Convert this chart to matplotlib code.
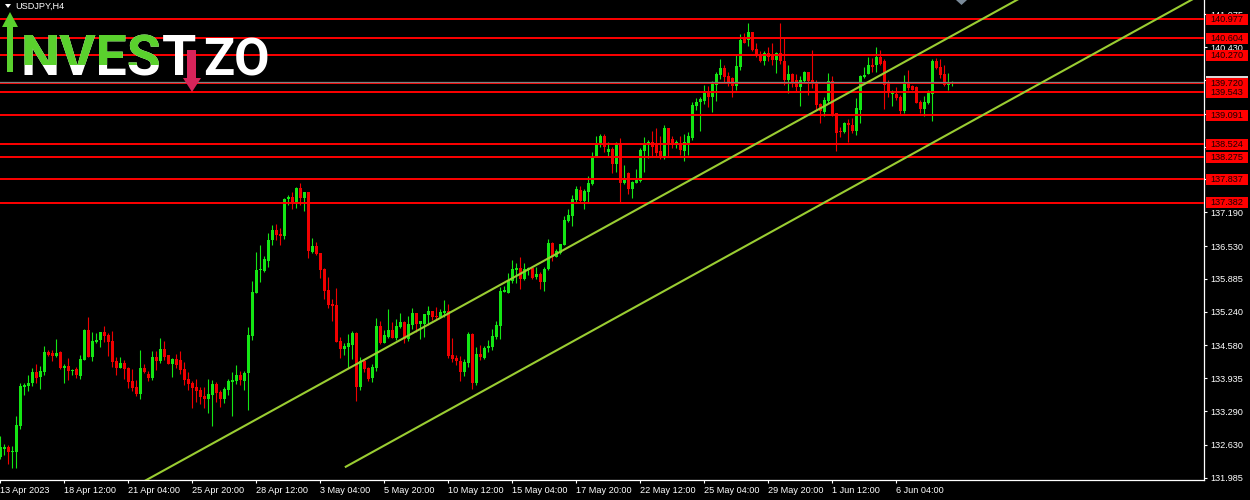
import numpy as np
import matplotlib
matplotlib.use("Agg")
import matplotlib.pyplot as plt
from matplotlib.patches import Rectangle, Polygon
from matplotlib.transforms import blended_transform_factory, Bbox

plt.rcParams['font.family'] = ['Liberation Sans', 'DejaVu Sans']

symbol = "USDJPY,H4"

# H4 candles, oldest first
opens = [
    132.40, 132.55, 132.59, 132.48, 132.49, 133.00, 133.77, 133.78, 133.84, 134.06,
    133.97, 134.06, 134.46, 134.44, 134.37, 134.46, 134.14, 134.18, 134.08, 134.11,
    133.98, 134.29, 134.88, 134.36, 134.64, 134.69, 134.84, 134.78, 134.67, 134.27,
    134.14, 134.24, 134.14, 133.89, 133.77, 133.63, 134.14, 134.01, 133.95, 134.36,
    134.27, 134.51, 134.39, 134.21, 134.31, 134.29, 134.12, 133.92, 133.85, 133.76,
    133.71, 133.59, 133.53, 133.61, 133.82, 133.67, 133.53, 133.71, 133.87, 133.88,
    134.00, 133.88, 134.03, 134.77, 135.61, 136.05, 136.04, 136.24, 136.65, 136.84,
    136.76, 136.73, 137.45, 137.50, 137.40, 137.67, 137.47, 137.58, 136.42, 136.53,
    136.40, 136.07, 135.67, 135.39, 135.37, 134.67, 134.51, 134.55, 134.59, 134.83,
    133.76, 134.27, 134.14, 133.95, 134.14, 134.96, 134.63, 134.75, 134.89, 134.73,
    134.95, 135.03, 134.70, 134.99, 135.21, 135.00, 135.01, 135.18, 135.25, 135.16,
    135.14, 135.22, 135.25, 134.39, 134.34, 134.27, 134.06, 134.24, 134.80, 133.84,
    134.41, 134.33, 134.52, 134.55, 134.75, 134.97, 135.63, 135.61, 135.85, 136.06,
    136.10, 135.88, 136.06, 136.10, 135.92, 135.98, 135.83, 136.08, 136.58, 136.32,
    136.40, 136.55, 137.02, 137.12, 137.43, 137.62, 137.41, 137.58, 137.75, 138.27,
    138.54, 138.69, 138.38, 138.43, 138.14, 138.56, 137.77, 137.97, 137.65, 137.77,
    137.81, 138.40, 138.51, 138.58, 138.51, 138.39, 138.30, 138.85, 138.63, 138.51,
    138.53, 138.40, 138.56, 138.64, 139.28, 139.36, 139.38, 139.56, 139.46, 139.69,
    139.88, 140.03, 139.86, 139.82, 139.67, 140.05, 140.62, 140.57, 140.73, 140.39,
    140.30, 140.16, 140.32, 140.30, 140.18, 140.31, 140.15, 139.79, 139.90, 139.79,
    139.64, 139.77, 139.95, 139.79, 139.75, 139.32, 139.16, 139.37, 139.77, 139.13,
    138.79, 138.76, 138.94, 138.90, 138.79, 139.20, 139.85, 139.90, 140.08, 140.08,
    140.24, 140.15, 139.71, 139.51, 139.51, 139.45, 139.18, 139.75, 139.66, 139.64,
    139.36, 139.22, 139.34, 139.51, 140.16, 140.05, 139.90, 139.69, 139.72,
]
highs = [
    132.80, 132.65, 132.63, 132.61, 133.19, 133.84, 133.84, 134.00, 134.13, 134.21,
    134.18, 134.57, 134.49, 134.49, 134.71, 134.47, 134.21, 134.33, 134.12, 134.16,
    134.39, 134.91, 135.14, 134.85, 134.82, 134.84, 134.96, 134.83, 134.86, 134.35,
    134.35, 134.29, 134.16, 134.11, 133.90, 134.49, 134.21, 134.08, 134.47, 134.47,
    134.73, 134.67, 134.39, 134.34, 134.41, 134.47, 134.26, 134.05, 133.89, 133.92,
    133.76, 133.76, 133.93, 133.90, 133.87, 133.71, 133.76, 133.93, 134.06, 134.20,
    134.08, 134.08, 134.95, 135.84, 136.42, 136.55, 136.33, 136.78, 136.94, 136.97,
    136.88, 137.48, 137.53, 137.58, 137.69, 137.77, 137.58, 137.58, 136.68, 136.61,
    136.40, 136.10, 135.92, 135.50, 135.71, 134.75, 134.63, 134.80, 134.86, 134.85,
    134.36, 134.31, 134.16, 134.21, 135.12, 135.06, 134.88, 135.29, 135.03, 135.10,
    135.21, 135.06, 135.16, 135.32, 135.22, 135.06, 135.20, 135.35, 135.25, 135.34,
    135.29, 135.47, 135.40, 134.72, 134.39, 134.37, 134.31, 134.85, 134.83, 134.55,
    134.59, 134.57, 134.69, 134.90, 135.05, 135.73, 135.75, 136.01, 136.26, 136.19,
    136.32, 136.19, 136.12, 136.12, 136.12, 136.03, 136.12, 136.67, 136.60, 136.47,
    136.57, 137.11, 137.25, 137.53, 137.71, 137.71, 137.65, 137.91, 138.37, 138.69,
    138.72, 138.72, 138.58, 138.47, 138.58, 138.64, 138.11, 137.99, 137.81, 138.04,
    138.46, 138.66, 138.61, 138.79, 138.84, 138.68, 138.90, 138.85, 138.69, 138.61,
    138.68, 138.73, 138.76, 139.36, 139.43, 139.45, 139.69, 139.66, 139.77, 139.95,
    140.19, 140.08, 139.95, 139.85, 140.30, 140.69, 140.71, 140.91, 140.73, 140.52,
    140.36, 140.36, 140.43, 140.52, 140.33, 140.91, 140.62, 140.08, 139.93, 139.90,
    139.86, 139.97, 139.95, 140.37, 139.79, 139.34, 139.46, 139.92, 139.86, 139.14,
    138.87, 138.97, 139.03, 139.05, 139.43, 139.88, 140.05, 140.24, 140.21, 140.44,
    140.37, 140.19, 139.79, 139.60, 139.64, 139.49, 139.88, 139.98, 139.69, 139.66,
    139.39, 139.47, 139.60, 140.19, 140.22, 140.19, 140.08, 139.93, 139.77,
]
lows = [
    132.36, 132.43, 132.25, 132.17, 132.18, 132.94, 133.61, 133.69, 133.78, 133.84,
    133.72, 134.00, 134.37, 134.28, 134.35, 134.11, 133.85, 133.90, 134.00, 133.95,
    133.93, 134.29, 134.36, 134.27, 134.62, 134.54, 134.65, 134.38, 134.16, 134.00,
    134.13, 133.93, 133.75, 133.69, 133.59, 133.53, 134.03, 133.88, 133.91, 134.10,
    134.23, 134.29, 134.21, 133.97, 134.14, 134.02, 133.80, 133.71, 133.36, 133.48,
    133.43, 133.36, 133.26, 133.00, 133.48, 133.38, 133.46, 133.61, 133.19, 133.82,
    133.80, 133.71, 133.31, 134.69, 135.61, 135.83, 136.03, 136.12, 136.55, 136.65,
    136.55, 136.67, 137.33, 137.26, 137.28, 137.33, 137.22, 136.30, 136.40, 136.35,
    135.91, 135.49, 135.32, 135.05, 134.65, 134.34, 134.39, 134.13, 134.31, 133.49,
    133.70, 134.06, 133.89, 133.87, 134.08, 134.61, 134.62, 134.72, 134.72, 134.69,
    134.93, 134.63, 134.67, 134.91, 134.85, 134.70, 134.75, 134.98, 135.08, 135.09,
    135.11, 135.14, 134.33, 134.26, 134.20, 133.89, 133.99, 134.15, 133.72, 133.80,
    134.29, 134.31, 134.46, 134.49, 134.71, 134.71, 135.62, 135.61, 135.80, 135.81,
    135.69, 135.86, 135.96, 135.88, 135.88, 135.69, 135.65, 136.05, 136.24, 136.31,
    136.37, 136.55, 137.01, 136.92, 137.38, 137.40, 137.26, 137.37, 137.73, 138.27,
    138.47, 138.37, 138.30, 137.96, 137.98, 137.39, 137.74, 137.55, 137.48, 137.76,
    137.78, 137.98, 138.25, 138.30, 138.30, 138.23, 138.23, 138.27, 138.45, 138.45,
    138.32, 138.20, 138.32, 138.60, 139.20, 138.79, 139.32, 139.25, 139.15, 139.38,
    139.81, 139.75, 139.67, 139.46, 139.60, 139.99, 140.51, 140.46, 140.36, 140.24,
    140.13, 140.08, 140.16, 140.08, 139.93, 140.10, 139.69, 139.54, 139.64, 139.58,
    139.28, 139.75, 139.49, 139.62, 139.20, 138.94, 139.08, 139.34, 139.08, 138.40,
    138.66, 138.75, 138.58, 138.75, 138.71, 138.95, 139.82, 139.90, 139.95, 139.95,
    140.08, 139.22, 139.45, 139.28, 139.39, 139.10, 139.13, 139.60, 139.59, 139.33,
    139.13, 139.08, 139.32, 138.98, 140.01, 139.82, 139.67, 139.60, 139.67,
]
closes = [
    132.59, 132.59, 132.48, 132.51, 133.02, 133.78, 133.80, 133.85, 134.06, 133.95,
    134.08, 134.46, 134.39, 134.38, 134.44, 134.13, 134.18, 134.08, 134.10, 134.00,
    134.31, 134.88, 134.36, 134.67, 134.69, 134.84, 134.77, 134.65, 134.26, 134.14,
    134.24, 134.12, 133.87, 133.75, 133.63, 134.13, 134.06, 133.95, 134.36, 134.27,
    134.51, 134.35, 134.21, 134.31, 134.20, 134.10, 133.90, 133.82, 133.74, 133.69,
    133.57, 133.53, 133.63, 133.82, 133.65, 133.53, 133.72, 133.88, 133.91, 134.00,
    133.90, 134.03, 134.78, 135.63, 136.06, 136.07, 136.27, 136.65, 136.84, 136.75,
    136.73, 137.45, 137.50, 137.40, 137.67, 137.47, 137.58, 136.43, 136.53, 136.37,
    136.05, 135.65, 135.37, 135.36, 134.65, 134.51, 134.57, 134.62, 134.83, 133.77,
    134.27, 134.12, 133.93, 134.16, 134.96, 134.63, 134.78, 134.89, 134.73, 134.96,
    135.03, 134.70, 135.00, 135.21, 135.00, 135.05, 135.20, 135.25, 135.14, 135.14,
    135.23, 135.25, 134.38, 134.31, 134.27, 134.06, 134.26, 134.80, 133.84, 134.41,
    134.35, 134.53, 134.57, 134.76, 134.98, 135.65, 135.67, 135.86, 136.08, 136.10,
    135.88, 136.08, 136.09, 135.90, 135.98, 135.83, 136.08, 136.58, 136.32, 136.43,
    136.56, 137.04, 137.14, 137.45, 137.65, 137.41, 137.60, 137.76, 138.27, 138.56,
    138.69, 138.47, 138.43, 138.14, 138.56, 137.77, 137.86, 137.65, 137.79, 137.83,
    138.41, 138.53, 138.58, 138.47, 138.36, 138.30, 138.85, 138.53, 138.51, 138.58,
    138.41, 138.58, 138.68, 139.30, 139.36, 139.41, 139.56, 139.46, 139.72, 139.90,
    140.03, 139.85, 139.71, 139.66, 140.06, 140.57, 140.52, 140.72, 140.37, 140.28,
    140.15, 140.32, 140.24, 140.18, 140.31, 140.15, 139.79, 139.90, 139.75, 139.64,
    139.79, 139.95, 139.77, 139.74, 139.30, 139.18, 139.39, 139.77, 139.10, 138.75,
    138.76, 138.95, 138.90, 138.79, 139.24, 139.86, 139.88, 140.08, 140.05, 140.24,
    140.11, 139.69, 139.56, 139.54, 139.43, 139.18, 139.75, 139.62, 139.60, 139.34,
    139.21, 139.36, 139.54, 140.16, 140.03, 139.88, 139.69, 139.72, 139.75,
]

# horizontal support / resistance levels
levels = [140.977, 140.604, 140.270, 139.720, 139.543,
          139.091, 138.524, 138.275, 137.837, 137.382]

# channel lines: (bar index, price) anchor pairs, drawn as rays to the right
upper_bars = [30, 242.4]
upper_prices = [131.66, 140.85]
lower_bars = [86.1, 242.4]
lower_prices = [132.19, 138.96]

price_ticks = [131.985, 132.630, 133.290, 133.935, 134.580, 135.240, 135.885,
               136.530, 137.190, 137.835, 138.480, 139.125, 139.785, 140.430, 141.075]
time_tick_bars = [0, 16, 32, 48, 64, 80, 96, 112, 128, 144, 160, 176, 192, 208, 224]
time_tick_labels = ["13 Apr 2023", "18 Apr 12:00", "21 Apr 04:00", "25 Apr 20:00",
                    "28 Apr 12:00", "3 May 04:00", "5 May 20:00", "10 May 12:00",
                    "15 May 04:00", "17 May 20:00", "22 May 12:00", "25 May 04:00",
                    "29 May 20:00", "1 Jun 12:00", "6 Jun 04:00"]

BG = "black"
BULL = "#14e614"
BEAR = "#f00000"
LEVEL = "#ff0000"
CHANNEL = "#9acd32"
FS = 6.6

W, H = 1250, 500
fig = plt.figure(figsize=(W / 100, H / 100), dpi=100, facecolor=BG)
ax = fig.add_axes([0, 20.3 / H, 1204 / W, 479.7 / H])
ax.set_facecolor(BG)


def px(x, y):
    # figure pixel (from top-left) -> figure fraction
    return x / W, 1 - y / H


o = np.array(opens)
h = np.array(highs)
l = np.array(lows)
c = np.array(closes)
x = np.arange(len(c))
cols = np.where(c >= o, BULL, BEAR)

ax.vlines(x, l, h, colors=cols, lw=0.8, zorder=2)
ax.bar(x, np.maximum(np.abs(c - o), 0.012), bottom=np.minimum(o, c), width=0.75,
       color=cols, edgecolor=cols, linewidth=0, zorder=3)

x_right = 320
for bx, by in ((upper_bars, upper_prices), (lower_bars, lower_prices)):
    slope = (by[1] - by[0]) / (bx[1] - bx[0])
    ax.plot([bx[0], x_right], [by[0], by[0] + slope * (x_right - bx[0])],
            color=CHANNEL, lw=1.5, solid_capstyle="butt", zorder=5)

for lv in levels:
    ax.axhline(lv, color=LEVEL, lw=1.4, zorder=4)
ax.axhline(closes[-1], color="#808080", lw=0.9, zorder=4)

ax.set_xlim(-0.125, 300.9)
ax.set_ylim(131.946, 141.356)

for s in ("left", "top"):
    ax.spines[s].set_visible(False)
for s in ("right", "bottom"):
    ax.spines[s].set_color("white")
    ax.spines[s].set_linewidth(0.9)

ax.yaxis.tick_right()
ax.set_yticks(price_ticks)
ax.set_yticklabels([f"{p:.3f}" for p in price_ticks])
ax.set_xticks(time_tick_bars)
ax.set_xticklabels(time_tick_labels)
for t in ax.get_xticklabels():
    t.set_horizontalalignment("left")
ax.tick_params(axis="both", colors="white", labelsize=FS, length=2.5, width=0.8, pad=2)

# price labels on the right axis
tr = blended_transform_factory(ax.transAxes, ax.transData)
box_x0 = 1 + 2 / 1204
box_w = 42 / 1204
box_h = 11 * 9.41 / 479.7
ax.add_patch(Rectangle((box_x0, closes[-1] - box_h / 2), box_w, box_h, transform=tr,
                       facecolor="#d8d8d8", edgecolor="none", clip_on=False, zorder=6))
for lv in levels:
    ax.add_patch(Rectangle((box_x0, lv - box_h / 2), box_w, box_h, transform=tr,
                           facecolor=LEVEL, edgecolor="none", clip_on=False, zorder=7))
    ax.text(box_x0 + box_w / 2, lv, f"{lv:.3f}", transform=tr, ha="center", va="center",
            fontsize=FS, color="#1a0000", clip_on=False, zorder=8)

# symbol caption
fig.patches.append(Polygon([px(5, 4), px(11, 4), px(8, 8)], closed=True,
                           transform=fig.transFigure, facecolor="white", edgecolor="none"))
fig.text(*px(15, 6.5), symbol, color="white", fontsize=FS, ha="left", va="center")

# logo
LOGO_G = "#5ad12d"
LOGO_R = "#d7245a"
fig.patches.append(Polygon([px(10, 12), px(2, 27), px(7, 27), px(7, 72), px(13, 72),
                            px(13, 27), px(18, 27)], closed=True,
                           transform=fig.transFigure, facecolor=LOGO_G, edgecolor="none", zorder=10))
fig.patches.append(Polygon([px(187, 50), px(196, 50), px(196, 78), px(201, 78), px(192, 92),
                            px(183, 78), px(187, 78)], closed=True,
                           transform=fig.transFigure, facecolor=LOGO_R, edgecolor="none", zorder=10))
logo_kw = dict(fontsize=40, fontweight="bold", family=["Roboto", "DejaVu Sans"],
               ha="left", va="baseline", zorder=11)
fig.text(*px(20, 75), "NVES", color="white", **logo_kw)
green = fig.text(*px(20, 75), "NVES", color=LOGO_G, **logo_kw)
green.set_clip_box(Bbox([[0, H - 65], [W, H]]))
green.set_clip_on(True)
fig.text(*px(162, 75), "T", color="white", **logo_kw)
fig.text(*px(203, 75), "ZO", color="white", fontsize=37, fontweight="bold",
         family=["Roboto", "DejaVu Sans"], ha="left", va="baseline", zorder=11)

# one-click panel marker
fig.patches.append(Polygon([px(956, 0), px(967, 0), px(961.5, 5)], closed=True,
                           transform=fig.transFigure, facecolor="#7a8a99", edgecolor="none"))

fig.savefig("out.png", dpi=100, facecolor=BG)
